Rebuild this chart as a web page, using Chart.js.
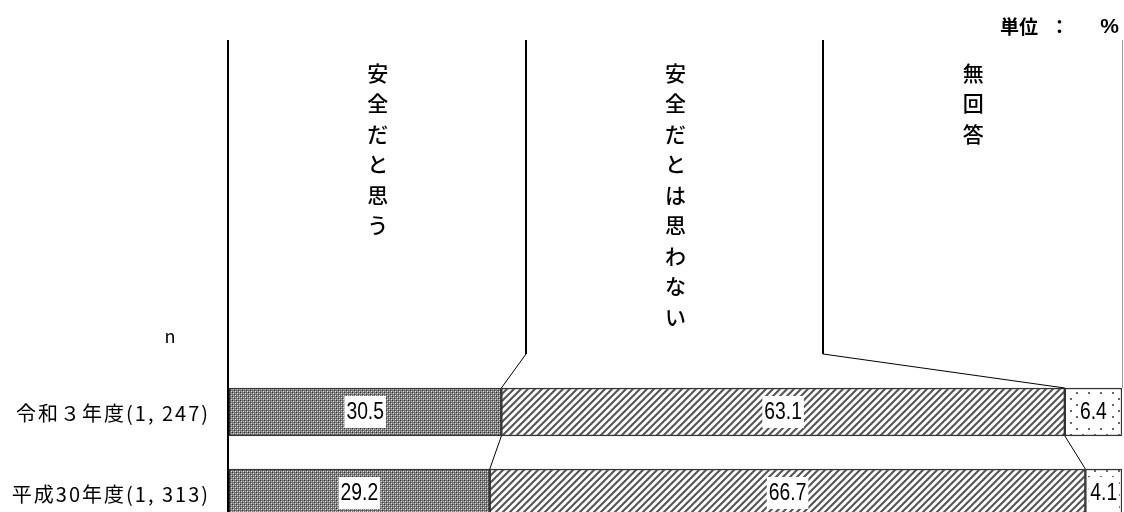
<!DOCTYPE html>
<html lang="ja">
<head>
<meta charset="UTF-8">
<title>安全だと思うか</title>
<script src="https://cdn.jsdelivr.net/npm/chart.js@4"></script>
<style>
  html, body { margin: 0; padding: 0; background: #fff; overflow: hidden; }
  canvas { display: block; }
</style>
</head>
<body>
<canvas id="grafico" width="1124" height="540"></canvas>
<script>
// datos
const categorias = ['令和３年度(1, 247)', '平成30年度(1, 313)'];
const series = ['安全だと思う', '安全だとは思わない', '無回答'];
const seguro = [30.5, 29.2];
const noSeguro = [63.1, 66.7];
const sinRespuesta = [6.4, 4.1];

// patrones de relleno
function patron(w, h, dibujar) {
  const c = document.createElement('canvas');
  c.width = w; c.height = h;
  const g = c.getContext('2d');
  dibujar(g);
  return document.createElement('canvas').getContext('2d').createPattern(c, 'repeat');
}
const patCuadros = patron(4, 4, g => {
  g.fillStyle = '#777'; g.fillRect(0, 0, 4, 4);
  g.fillStyle = '#333'; g.fillRect(0, 0, 1, 1); g.fillRect(2, 2, 1, 1);
  g.fillStyle = '#e2e2e2'; g.fillRect(1, 1, 1, 1); g.fillRect(3, 3, 1, 1);
  g.fillStyle = '#b4b4b4'; g.fillRect(3, 1, 1, 1); g.fillRect(1, 3, 1, 1);
});
const patRayas = patron(7, 7, g => {
  g.fillStyle = '#fff'; g.fillRect(0, 0, 7, 7);
  g.strokeStyle = '#555'; g.lineWidth = 2.1;
  g.beginPath();
  g.moveTo(-1, 8); g.lineTo(8, -1);
  g.moveTo(-4, 4); g.lineTo(4, -4);
  g.moveTo(3, 11); g.lineTo(11, 3);
  g.stroke();
});
const patPuntos = patron(12, 12, g => {
  g.fillStyle = '#fff'; g.fillRect(0, 0, 12, 12);
  g.fillStyle = '#666';
  g.fillRect(2, 2, 2, 2); g.fillRect(8, 8, 2, 2);
});

const JP = "'Noto Sans CJK JP', sans-serif";

// leyenda vertical, líneas de unión y etiquetas
const decoracion = {
  id: 'decoracion',
  afterDatasetsDraw(chart) {
    const { ctx, chartArea: a, scales: { x, y } } = chart;
    const barras = chart.getDatasetMeta(0).data;
    const arriba = barras.map(b => b.y - b.height / 2);
    const abajo = barras.map(b => b.y + b.height / 2);
    const valores = [seguro, noSeguro, sinRespuesta];
    // límites acumulados de cada barra
    const limites = categorias.map((_, i) => {
      let s = 0;
      return valores.map(v => x.getPixelForValue(s += v[i]));
    });
    const topLeyenda = 40;
    const finLinea = arriba[0] - 34;
    const ancho = a.right - a.left;
    ctx.save();

    // eje izquierdo
    ctx.strokeStyle = '#000'; ctx.lineWidth = 2;
    ctx.beginPath(); ctx.moveTo(a.left - 1, topLeyenda); ctx.lineTo(a.left - 1, a.bottom); ctx.stroke();

    // líneas de columnas de la leyenda
    for (let k = 1; k <= 2; k++) {
      const cx = Math.round(a.left + ancho * k / 3) - 1;
      ctx.strokeStyle = '#000'; ctx.lineWidth = 2;
      ctx.beginPath(); ctx.moveTo(cx, topLeyenda); ctx.lineTo(cx, finLinea); ctx.stroke();
      ctx.lineWidth = 1;
      ctx.beginPath(); ctx.moveTo(cx, finLinea); ctx.lineTo(limites[0][k - 1], arriba[0]); ctx.stroke();
    }
    ctx.strokeStyle = '#999'; ctx.lineWidth = 1;
    ctx.beginPath(); ctx.moveTo(a.right + 0.5, topLeyenda); ctx.lineTo(a.right + 0.5, arriba[0]); ctx.stroke();

    // uniones entre barras
    ctx.strokeStyle = '#000'; ctx.lineWidth = 1;
    for (let k = 0; k < 2; k++) {
      ctx.beginPath();
      ctx.moveTo(limites[0][k], abajo[0]);
      ctx.lineTo(limites[1][k], arriba[1]);
      ctx.stroke();
    }

    // texto vertical de la leyenda
    ctx.fillStyle = '#000';
    ctx.font = '500 21px ' + JP;
    ctx.textAlign = 'center'; ctx.textBaseline = 'middle';
    series.forEach((nombre, k) => {
      const cx = a.left + ancho * (k + 0.5) / 3;
      [...nombre].forEach((ch, j) => ctx.fillText(ch, cx, 73 + j * 30.5));
    });

    // categorías
    ctx.font = '20px ' + JP;
    ctx.textAlign = 'right';
    ctx.letterSpacing = '2px';
    categorias.forEach((c, i) => ctx.fillText(c, a.left - 19, y.getPixelForValue(i) + 1));
    ctx.letterSpacing = '0px';

    // etiquetas de valor
    ctx.textAlign = 'center';
    ctx.font = "23px 'Liberation Sans', Arial, sans-serif";
    const esc = 0.84;
    barras.forEach((b, i) => {
      let s = 0;
      valores.forEach(v => {
        const x0 = x.getPixelForValue(s);
        s += v[i];
        const x1 = x.getPixelForValue(s);
        const txt = v[i].toFixed(1);
        const w = ctx.measureText(txt).width * esc;
        const cx = (x0 + x1) / 2;
        ctx.fillStyle = '#fff';
        ctx.fillRect(cx - w / 2 - 2, b.y - 16, w + 4, 32);
        ctx.save();
        ctx.translate(cx, b.y + 1);
        ctx.scale(esc, 1);
        ctx.fillStyle = '#000';
        ctx.fillText(txt, 0, 0);
        ctx.restore();
      });
    });

    // textos sueltos
    ctx.fillStyle = '#000';
    ctx.font = '18px ' + JP;
    ctx.fillText('n', 170, 336);
    ctx.font = 'bold 19px ' + JP;
    ctx.textAlign = 'left';
    ctx.fillText('単位', 1000, 27);
    ctx.fillText('：', 1050, 27);
    ctx.textAlign = 'right';
    ctx.font = "bold 21px 'Liberation Sans', Arial, sans-serif";
    ctx.fillText('%', 1119, 27);
    ctx.restore();
  }
};

const comun = { borderColor: '#333', borderWidth: 1.5, borderSkipped: false, barThickness: 48 };

new Chart(document.getElementById('grafico'), {
  type: 'bar',
  data: {
    labels: categorias,
    datasets: [
      { label: series[0], data: seguro, backgroundColor: patCuadros, ...comun },
      { label: series[1], data: noSeguro, backgroundColor: patRayas, ...comun },
      { label: series[2], data: sinRespuesta, backgroundColor: patPuntos, ...comun }
    ]
  },
  options: {
    indexAxis: 'y',
    responsive: false,
    animation: false,
    layout: { padding: { top: 371.5, right: 2, bottom: 6.5, left: 229 } },
    plugins: { legend: { display: false }, tooltip: { enabled: false } },
    scales: {
      x: { stacked: true, min: 0, max: 100, display: false },
      y: { stacked: true, display: false }
    }
  },
  plugins: [decoracion]
});
</script>
</body>
</html>
